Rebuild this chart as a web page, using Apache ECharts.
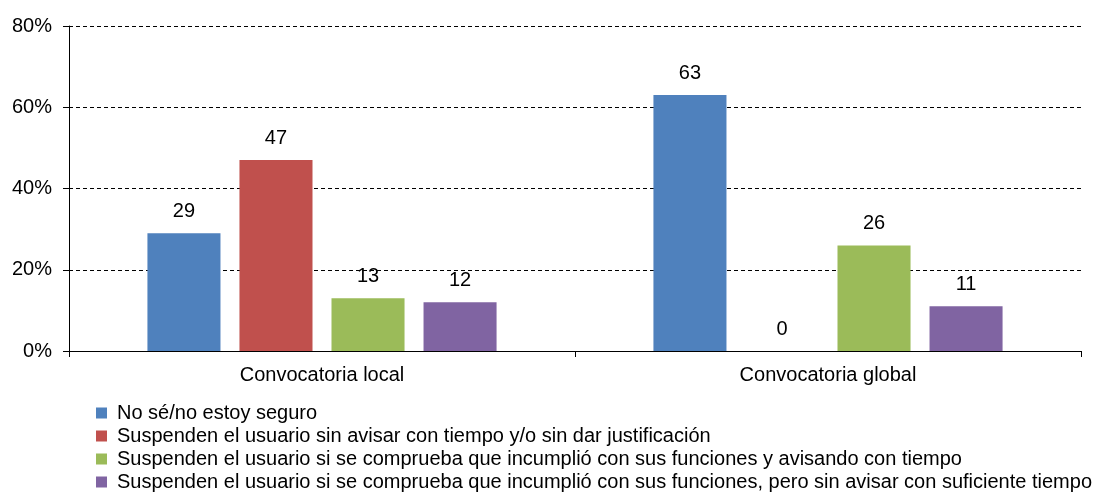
<!DOCTYPE html>
<html>
<head>
<meta charset="utf-8">
<script src="https://cdn.jsdelivr.net/npm/echarts@6/dist/echarts.min.js"></script>
<style>
  html, body { margin: 0; padding: 0; background: #fff; }
  #chart { width: 1094px; height: 492px; }
</style>
</head>
<body>
<div id="chart"></div>
<script>
// Categories and series values (percent)
const categories = ['Convocatoria local', 'Convocatoria global'];
const seriesNames = [
  'No sé/no estoy seguro',
  'Suspenden el usuario sin avisar con tiempo y/o sin dar justificación',
  'Suspenden el usuario si se comprueba que incumplió con sus funciones y avisando con tiempo',
  'Suspenden el usuario si se comprueba que incumplió con sus funciones, pero sin avisar con suficiente tiempo'
];
const noSe = [29, 63];
const sinAvisar = [47, 0];
const avisando = [13, 26];
const sinSuficiente = [12, 11];
const yTicks = [0, 20, 40, 60, 80];

const colors = ['#4F81BD', '#C0504D', '#9BBB59', '#8064A2'];
const values = [noSe, sinAvisar, avisando, sinSuficiente];
const font = 'Liberation Sans, Arial, sans-serif';

// One legend block per entry so the list stacks as a single column
const legendTops = [403, 426, 449, 472];
const legends = seriesNames.map((name, i) => ({
  orient: 'vertical',
  left: 96,
  top: legendTops[i],
  padding: 0,
  itemWidth: 11,
  itemHeight: 11,
  icon: 'rect',
  textStyle: { fontSize: 20, lineHeight: 20, color: '#000', fontFamily: font, padding: [0, 0, 0, 5] },
  data: [name]
}));

const chart = echarts.init(document.getElementById('chart'));
chart.setOption({
  animation: false,
  textStyle: { fontFamily: font },
  grid: { left: 69, right: 13, top: 26, bottom: 141 },
  legend: legends,
  xAxis: {
    type: 'category',
    data: categories,
    axisLine: { lineStyle: { color: '#000', width: 1 } },
    axisTick: { show: true, length: 6, lineStyle: { color: '#000' } },
    axisLabel: { fontSize: 20, color: '#000', margin: 14 }
  },
  yAxis: {
    type: 'value',
    min: yTicks[0],
    max: yTicks[yTicks.length - 1],
    interval: 20,
    axisLine: { show: true, lineStyle: { color: '#000', width: 1 } },
    axisTick: { show: true, length: 6, lineStyle: { color: '#000' } },
    axisLabel: { fontSize: 20, color: '#000', margin: 17, formatter: '{value}%' },
    splitLine: { lineStyle: { color: '#000', type: [4, 3], width: 1 } }
  },
  series: seriesNames.map((name, i) => ({
    name: name,
    type: 'bar',
    data: values[i],
    barGap: '26%',
    barCategoryGap: '31%',
    itemStyle: { color: colors[i] },
    label: {
      show: true,
      position: 'top',
      distance: 12,
      fontSize: 20,
      color: '#000',
      formatter: '{c}'
    }
  }))
});
</script>
</body>
</html>
